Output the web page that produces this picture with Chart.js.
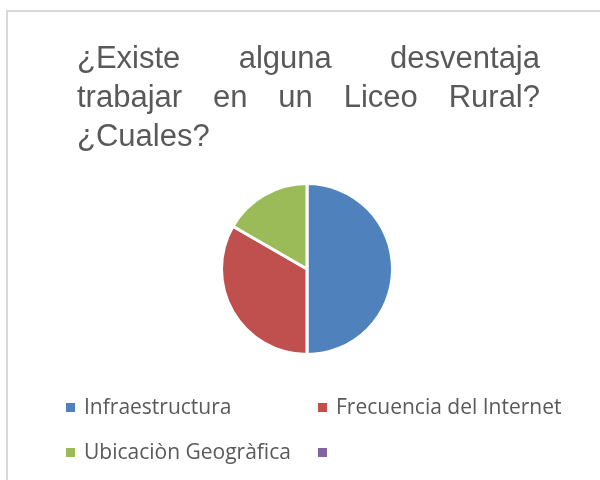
<!DOCTYPE html>
<html><head><meta charset="utf-8">
<script src="https://cdn.jsdelivr.net/npm/chart.js@4/dist/chart.umd.min.js"></script>
<style>html,body{margin:0;padding:0;background:#fff}#wrap{width:600px;height:480px;position:relative}</style>
</head><body><div id="wrap"><canvas id="c" width="600" height="480"></canvas></div>
<script>
const titleLines = ["¿Existe alguna desventaja", "trabajar en un Liceo Rural?", "¿Cuales?"];
const categories = ["Infraestructura", "Frecuencia del Internet", "Ubicaciòn Geogràfica", ""];
const values = [3, 2, 1, 0];
const colors = ["#4F81BD", "#C0504D", "#9BBB59", "#8064A2"];

const frame = {
  id: 'frame',
  beforeDraw(chart) {
    const ctx = chart.ctx; ctx.save();
    ctx.fillStyle = '#fff'; ctx.fillRect(0, 0, chart.width, chart.height);
    ctx.strokeStyle = '#d9d9d9'; ctx.lineWidth = 2;
    ctx.beginPath(); ctx.moveTo(7, 482); ctx.lineTo(7, 11); ctx.lineTo(602, 11); ctx.stroke();
    ctx.restore();
  }
};

const justifiedTitle = {
  id: 'justifiedTitle',
  afterDraw(chart, args, opts) {
    const ctx = chart.ctx; ctx.save();
    ctx.font = opts.font; ctx.fillStyle = opts.color; ctx.textBaseline = 'alphabetic'; ctx.textAlign = 'left';
    opts.lines.forEach((line, i) => {
      const words = line.split(' ');
      const y = opts.top + i * opts.lineHeight;
      if (i === opts.lines.length - 1 || words.length < 2) { ctx.fillText(line, opts.left, y); return; }
      const wsum = words.reduce((s, w) => s + ctx.measureText(w).width, 0);
      const gap = (opts.right - opts.left - wsum) / (words.length - 1);
      let x = opts.left;
      words.forEach(w => { ctx.fillText(w, x, y); x += ctx.measureText(w).width + gap; });
    });
    ctx.restore();
  }
};

const gridLegend = {
  id: 'gridLegend',
  afterDraw(chart, args, opts) {
    const ctx = chart.ctx; ctx.save();
    ctx.font = opts.font; ctx.textBaseline = 'alphabetic'; ctx.textAlign = 'left';
    const labels = chart.data.labels, bg = chart.data.datasets[0].backgroundColor;
    labels.forEach((lab, i) => {
      const col = i % 2, row = Math.floor(i / 2);
      const x = opts.colX[col], y = opts.rowY[row];
      ctx.fillStyle = bg[i]; ctx.fillRect(x, y, opts.box, opts.box);
      ctx.fillStyle = opts.color; ctx.fillText(lab, x + opts.textOffset, y + opts.baseline);
    });
    ctx.restore();
  }
};

new Chart(document.getElementById('c'), {
  type: 'pie',
  data: {
    labels: categories,
    datasets: [{ data: values, backgroundColor: colors, borderColor: '#ffffff', borderWidth: [3, 3, 3, 0] }]
  },
  options: {
    responsive: false, animation: false,
    layout: { padding: { left: 220, right: 206, top: 182, bottom: 124 } },
    plugins: {
      legend: { display: false }, title: { display: false }, tooltip: { enabled: false },
      justifiedTitle: { lines: titleLines, font: '31px "Liberation Sans", Arial, sans-serif', color: '#595959', left: 77, right: 540, top: 68, lineHeight: 39 },
      gridLegend: { font: '21px "Open Sans", sans-serif', color: '#595959', colX: [66, 318], rowY: [403, 448], box: 9, textOffset: 18, baseline: 11 }
    }
  },
  plugins: [frame, justifiedTitle, gridLegend]
});
</script></body></html>
